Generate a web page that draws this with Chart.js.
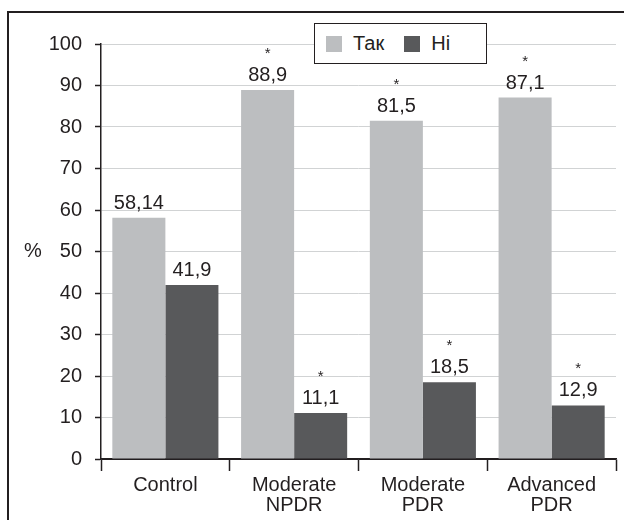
<!DOCTYPE html>
<html>
<head>
<meta charset="utf-8">
<script src="https://cdn.jsdelivr.net/npm/chart.js@4.4.1/dist/chart.umd.min.js"></script>
<style>
    body { margin: 0; background: #fff; overflow: hidden; }
    #wrap { position: relative; width: 624px; height: 520px; }
    #frame {
        position: absolute; left: 7px; top: 11px; width: 700px; height: 600px;
        border: 2px solid #231f20; box-sizing: border-box;
    }
    #chartBox { position: absolute; left: 0; top: 0; width: 624px; height: 520px; }
    #legend {
        position: absolute; left: 314px; top: 23px; width: 173px; height: 41px;
        border: 1.5px solid #231f20; background: #fff; box-sizing: border-box;
        font: 20px "Liberation Sans", Arial, sans-serif; color: #231f20;
        display: flex; align-items: center; padding-left: 11px;
    }
    #legend .item { display: flex; align-items: center; margin-right: 20px; }
    #legend .swatch { width: 16px; height: 16px; margin-right: 11px; }
</style>
</head>
<body>
<div id="wrap">
    <div id="frame"></div>
    <div id="chartBox"><canvas id="barChart" width="624" height="520"></canvas></div>
    <div id="legend"></div>
</div>
<script>
const categories = ['Control', ['Moderate', 'NPDR'], ['Moderate', 'PDR'], ['Advanced', 'PDR']];
const takValues = [58.14, 88.9, 81.5, 87.1];
const hiValues = [41.9, 11.1, 18.5, 12.9];
// significance marks (*) over each bar
const takStars = [false, true, true, true];
const hiStars = [false, true, true, true];
const yTicks = [0, 10, 20, 30, 40, 50, 60, 70, 80, 90, 100];
const yTitle = '%';

const textColor = '#231f20';
const fontFamily = '"Liberation Sans", Arial, sans-serif';

// value labels and stars above bars
const barLabels = {
    id: 'barLabels',
    afterDatasetsDraw(chart) {
        const ctx = chart.ctx;
        ctx.save();
        ctx.fillStyle = textColor;
        ctx.textAlign = 'center';
        ctx.textBaseline = 'alphabetic';
        chart.data.datasets.forEach((ds, i) => {
            const meta = chart.getDatasetMeta(i);
            meta.data.forEach((bar, j) => {
                ctx.font = '20px ' + fontFamily;
                ctx.fillText(String(ds.data[j]).replace('.', ','), bar.x, bar.y - 9);
                if (ds.stars[j]) {
                    ctx.font = '15px ' + fontFamily;
                    ctx.fillText('*', bar.x, bar.y - 32);
                }
            });
        });
        // y axis title, horizontal
        const y = chart.scales.y;
        ctx.font = '20px ' + fontFamily;
        ctx.textBaseline = 'middle';
        ctx.fillText(yTitle, 33, y.getPixelForValue(50));
        ctx.restore();
    }
};

const chart = new Chart(document.getElementById('barChart'), {
    type: 'bar',
    data: {
        labels: categories,
        datasets: [{
            label: 'Так',
            data: takValues,
            stars: takStars,
            backgroundColor: '#bcbec0'
        }, {
            label: 'Ні',
            data: hiValues,
            stars: hiStars,
            backgroundColor: '#58595b'
        }]
    },
    options: {
        responsive: false,
        animation: false,
        layout: { padding: { left: 0, right: 8, top: 44, bottom: 0 } },
        datasets: {
            bar: { categoryPercentage: 0.824, barPercentage: 1.0 }
        },
        scales: {
            x: {
                offset: true,
                grid: {
                    offset: true,
                    drawOnChartArea: false,
                    tickLength: 12,
                    tickColor: textColor,
                    tickWidth: 1.5
                },
                border: { color: textColor, width: 1.5 },
                ticks: {
                    color: textColor,
                    font: { family: fontFamily, size: 20, lineHeight: 1.0 },
                    padding: 4,
                    maxRotation: 0,
                    autoSkip: false
                },
                afterFit(scale) { scale.height = 61; }
            },
            y: {
                min: 0,
                max: 100,
                afterBuildTicks(scale) { scale.ticks = yTicks.map(v => ({ value: v })); },
                grid: {
                    color: ctx => ctx.tick && ctx.tick.value === 0 ? textColor : '#d1d3d4',
                    tickColor: textColor,
                    tickLength: 6,
                    tickWidth: 1.5
                },
                border: { color: textColor, width: 1.5 },
                ticks: {
                    color: textColor,
                    font: { family: fontFamily, size: 20 },
                    padding: 13
                },
                afterFit(scale) { scale.width = 101; }
            }
        },
        plugins: {
            legend: { display: false },
            tooltip: { enabled: false }
        }
    },
    plugins: [barLabels]
});

// html legend built from the datasets
const legendEl = document.getElementById('legend');
chart.data.datasets.forEach(ds => {
    const item = document.createElement('div');
    item.className = 'item';
    item.innerHTML = '<span class="swatch" style="background:' + ds.backgroundColor + '"></span>' + ds.label;
    legendEl.appendChild(item);
});
</script>
</body>
</html>
